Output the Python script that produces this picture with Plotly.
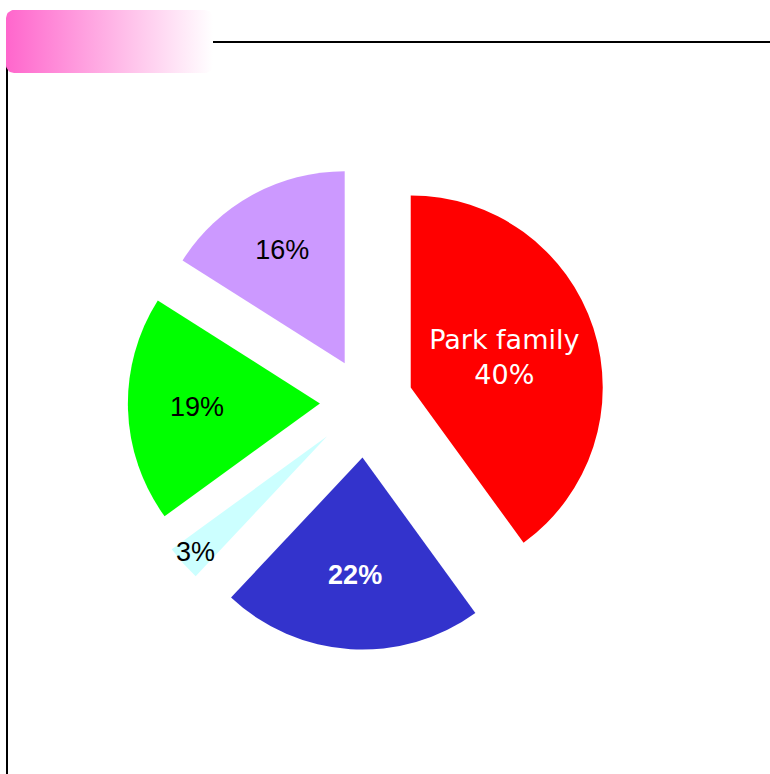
import numpy as np
import plotly.graph_objects as go

# slice data, clockwise from 12 o'clock
labels = ["Park family", "Kim family", "Lee family", "Choi family", "Jung family"]
values = [40, 22, 3, 19, 16]
colors = ["#FF0000", "#3333CC", "#CCFFFF", "#00FF00", "#CC99FF"]
pulls = [0.245, 0.29, 0.27, 0.24, 0.23]
templates = ["%{label}<br>%{percent}", "<b>%{percent}</b>", "%{percent}", "%{percent}", "%{percent}"]
text_colors = ["white", "white", "black", "black", "black"]
text_fonts = ["DejaVu Sans", "Arial", "Arial", "Arial", "Arial"]

W, H = 770, 774

fig = go.Figure()

fig.add_trace(
    go.Pie(
        labels=labels,
        values=values,
        sort=False,
        direction="clockwise",
        rotation=0,
        pull=pulls,
        marker=dict(colors=colors, line=dict(width=0)),
        texttemplate=templates,
        textposition="inside",
        insidetextorientation="horizontal",
        textfont=dict(color=text_colors, family=text_fonts, size=27),
        showlegend=False,
        domain=dict(x=[0.1536, 0.7970], y=[0.1606, 0.8007]),
    )
)

# rounded box with pink -> white gradient, drawn on a hidden pixel-space axis
x0, x1, y0, y1, rad = 6, 213, 10, 73, 8
pts = []
for cx, cy, a0 in [(x1 - rad, y0 + rad, -90), (x1 - rad, y1 - rad, 0),
                   (x0 + rad, y1 - rad, 90), (x0 + rad, y0 + rad, 180)]:
    a = np.radians(np.linspace(a0, a0 + 90, 10))
    pts += list(zip(cx + rad * np.cos(a), cy + rad * np.sin(a)))
pts.append(pts[0])
bx, by = zip(*pts)
fig.add_trace(
    go.Scatter(
        x=bx, y=by,
        mode="lines",
        line=dict(width=0),
        fill="toself",
        fillgradient=dict(type="horizontal",
                          colorscale=[[0, "#FF66CC"], [1, "#FFFFFF"]]),
        hoverinfo="skip",
        showlegend=False,
    )
)

fig.update_layout(
    width=W,
    height=H,
    margin=dict(l=0, r=0, t=0, b=0),
    paper_bgcolor="white",
    plot_bgcolor="rgba(0,0,0,0)",
    uniformtext=dict(minsize=27, mode="show"),
    xaxis=dict(range=[0, W], visible=False, fixedrange=True),
    yaxis=dict(range=[H, 0], visible=False, fixedrange=True),
    shapes=[
        dict(type="rect", xref="paper", yref="paper",
             x0=7 / W, x1=1.05, y0=-0.05, y1=1 - 42 / H,
             line=dict(color="black", width=2), layer="below"),
    ],
)

fig.write_html("out.html", config={"displayModeBar": False},
               post_script="document.body.style.margin = '0';")
